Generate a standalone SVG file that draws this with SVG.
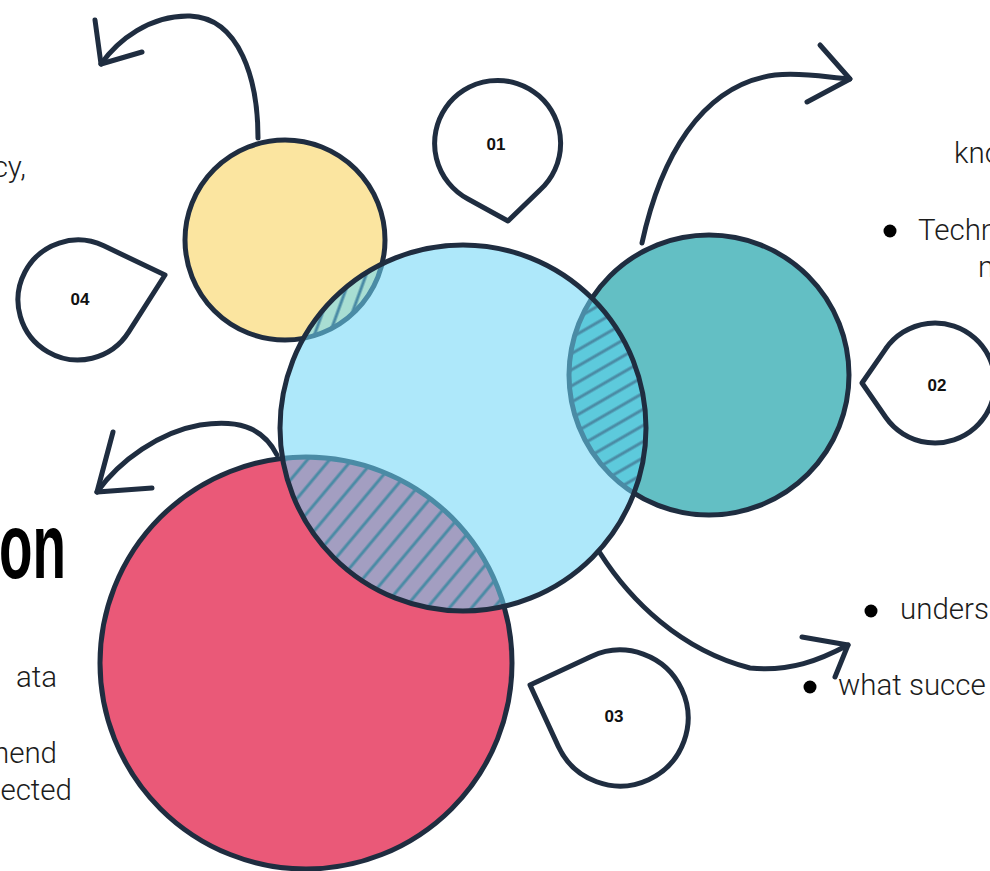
<svg xmlns="http://www.w3.org/2000/svg" width="990" height="871" viewBox="0 0 990 871">
<style>
.body{font-family:Roboto,"Liberation Sans",sans-serif;font-weight:300;font-size:29.5px;fill:#1c1c1c}
.lbl{font-family:"Liberation Sans",Roboto,sans-serif;font-weight:bold;font-size:17px;fill:#111;text-anchor:middle}
.ink{fill:none;stroke:#1f2d40;stroke-width:5;stroke-linecap:round;stroke-linejoin:round}
.pin{fill:#fff;stroke:#1f2d40;stroke-width:5;stroke-linejoin:round}
.inner{fill:none;stroke:#4a8ba5;stroke-width:5}
</style>
<defs>
<clipPath id="clipBlue"><circle cx="463" cy="428" r="183"/></clipPath>
<pattern id="hY" patternUnits="userSpaceOnUse" width="14" height="14" patternTransform="rotate(20)"><line x1="4" y1="0" x2="4" y2="14" stroke="#4a8ba5" stroke-width="3"/></pattern>
<pattern id="hT" patternUnits="userSpaceOnUse" width="14" height="14" patternTransform="rotate(60)"><line x1="4" y1="0" x2="4" y2="14" stroke="#4a8ba5" stroke-width="3"/></pattern>
<pattern id="hR" patternUnits="userSpaceOnUse" width="17" height="17" patternTransform="rotate(40)"><line x1="4" y1="0" x2="4" y2="17" stroke="#4a8ba5" stroke-width="3"/></pattern>
</defs>
<rect width="990" height="871" fill="#fff"/>

<g id="texts">
<text class="body" x="26" y="177" text-anchor="end">cy,</text>
<text x="-1" y="578" textLength="67" lengthAdjust="spacingAndGlyphs" style="font-family:'Liberation Sans',sans-serif;font-weight:bold;font-size:92px;fill:#000">on</text>
<text class="body" x="57" y="687" text-anchor="end">ata</text>
<text class="body" x="57" y="763" text-anchor="end">hend</text>
<text class="body" x="72" y="800" text-anchor="end">ected</text>
<text class="body" x="954" y="163">kno</text>
<circle cx="890" cy="231" r="6.5" fill="#000"/>
<text class="body" x="918" y="240">Techn</text>
<text class="body" x="978" y="277">n</text>
<circle cx="871" cy="611" r="6.5" fill="#000"/>
<text class="body" x="900" y="619">unders</text>
<circle cx="810" cy="687" r="6.5" fill="#000"/>
<text class="body" x="838" y="695">what succe</text>
</g>

<g id="circles">
<g id="yellow"><circle cx="285" cy="240" r="100" fill="#fbe5a0" stroke="#1f2d40" stroke-width="5"/></g>
<g id="teal"><circle cx="709" cy="375" r="140" fill="#63bfc4" stroke="#1f2d40" stroke-width="5"/></g>
<g id="red"><circle cx="306" cy="663" r="206" fill="#ea5978" stroke="#1f2d40" stroke-width="5"/></g>
<g id="blue">
<circle cx="463" cy="428" r="183" fill="#aee8fa"/>
<g clip-path="url(#clipBlue)">
<circle cx="285" cy="240" r="100" fill="#a8ded3"/>
<circle cx="709" cy="375" r="140" fill="#5dcadc"/>
<circle cx="306" cy="663" r="206" fill="#a39ec1"/>
<circle cx="285" cy="240" r="100" fill="url(#hY)"/>
<circle cx="709" cy="375" r="140" fill="url(#hT)"/>
<circle cx="306" cy="663" r="206" fill="url(#hR)"/>
<circle class="inner" cx="285" cy="240" r="100"/>
<circle class="inner" cx="709" cy="375" r="140"/>
<circle class="inner" cx="306" cy="663" r="206"/>
</g>
<circle cx="463" cy="428" r="183" fill="none" stroke="#1f2d40" stroke-width="5"/>
</g>
</g>

<g id="pins">
<g id="pin01"><path class="pin" d="M540,190 A63,63 0 1 0 468,199 L508,221 Z"/><text class="lbl" x="496" y="150">01</text></g>
<g id="pin02"><path class="pin" d="M885.7,348.8 A60,60 0 1 1 885.7,417.2 L862,383 Z"/><text class="lbl" x="937" y="391">02</text></g>
<g id="pin03"><path class="pin" d="M591.2,656.4 A68,68 0 1 1 558.3,746.4 L530,685 Z"/><text class="lbl" x="614" y="722">03</text></g>
<g id="pin04"><path class="pin" d="M128.6,332.2 A60,60 0 1 1 103.8,245.8 L165,275 Z"/><text class="lbl" x="80" y="305">04</text></g>
</g>

<g id="connectors">
<path class="ink" d="M258,138 C258,80 240,18 190,16 C150,15 118,40 101,64"/>
<path class="ink" d="M95,20 L101,64 L142,52"/>
<path class="ink" d="M642,243 C660,160 700,85 775,75 C805,72 830,78 850,79"/>
<path class="ink" d="M820,45 L850,79 L807,102"/>
<path class="ink" d="M277,455 C262,425 235,420 200,425 C160,432 120,460 97,492"/>
<path class="ink" d="M113,432 L97,492 L152,488"/>
<path class="ink" d="M600,553 C630,600 680,650 750,668 C790,672 820,660 848,645"/>
<path class="ink" d="M802,637 L848,645 L835,677"/>
</g>
</svg>
